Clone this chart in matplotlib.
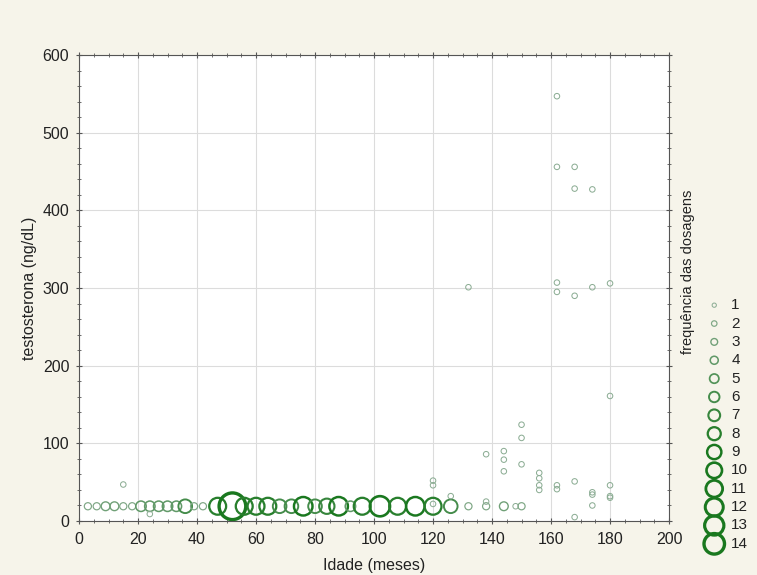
import numpy as np
import matplotlib
matplotlib.use('Agg')
import matplotlib.pyplot as plt
from matplotlib.ticker import MultipleLocator

# idade (meses), testosterona (ng/dL), frequencia das dosagens
ages = [3, 6, 9, 12, 15, 18, 21, 24, 27, 30, 33, 36, 39, 42, 47, 52, 56, 60, 64, 68,
        72, 76, 80, 84, 88, 92, 96, 102, 108, 114, 120, 126, 132, 138, 144, 148, 150,
        15, 24, 120, 120, 120, 126, 138, 138, 144, 144, 144, 150, 150, 150,
        156, 156, 156, 156, 162, 162, 168, 168, 174, 174, 174, 180, 180, 180,
        132, 162, 162, 168, 168, 174, 162, 162, 168, 174, 180, 180]
testo = [19, 19, 19, 19, 19, 19, 19, 19, 19, 19, 19, 19, 19, 19, 19, 19, 19, 19, 19, 19,
         19, 19, 19, 19, 19, 19, 19, 19, 19, 19, 19, 19, 19, 19, 19, 19, 19,
         47, 9, 52, 46, 22, 32, 86, 25, 90, 79, 64, 124, 107, 73,
         62, 55, 46, 40, 46, 41, 51, 5, 37, 34, 20, 46, 32, 30,
         301, 547, 456, 456, 428, 427, 307, 295, 290, 301, 306, 161]
freq = [2, 2, 3, 3, 2, 2, 4, 4, 4, 4, 4, 6, 2, 2, 8, 14, 8, 8, 8, 6,
        6, 9, 6, 7, 9, 4, 8, 10, 8, 9, 8, 6, 2, 2, 3, 1, 2,
        1, 1, 1, 1, 1, 1, 1, 1, 1, 1, 1, 1, 1, 1,
        1, 1, 1, 1, 1, 1, 1, 1, 1, 1, 1, 1, 1, 1,
        1, 1, 1, 1, 1, 1, 1, 1, 1, 1, 1, 1]
levels = list(range(1, 15))


def style(n, scale=1.0):
    n = np.asarray(n, dtype=float)
    t = np.clip((n - 1) / 8.0, 0, 1)
    light = np.array([0.55, 0.68, 0.58])
    dark = np.array([0.10, 0.47, 0.12])
    cols = light[None, :] * (1 - t[:, None]) + dark[None, :] * t[:, None]
    diam_px = scale * (3.0 + 1.25 * n)
    size = (diam_px * 0.72) ** 2
    lw = 0.6 + 0.13 * n
    return cols, size, lw


plt.rcParams['font.family'] = ['Liberation Sans', 'DejaVu Sans']
fig = plt.figure(figsize=(7.57, 5.75), dpi=100, facecolor='#f6f4ea')
ax = fig.add_axes([0.1044, 0.0939, 0.7794, 0.8104])

cols, size, lw = style(freq, 1.3)
ax.scatter(ages, testo, s=size, facecolors='none', edgecolors=cols, linewidths=lw, zorder=3)

ax.set_xlim(0, 200)
ax.set_ylim(0, 600)
ax.xaxis.set_major_locator(MultipleLocator(20))
ax.xaxis.set_minor_locator(MultipleLocator(5))
ax.yaxis.set_major_locator(MultipleLocator(100))
ax.yaxis.set_minor_locator(MultipleLocator(20))
ax.grid(True, which='major', color='#dcdcdc', linewidth=0.8)
ax.set_axisbelow(True)
ax.tick_params(which='both', direction='inout', top=True, right=True, colors='#555555',
               labelcolor='#222222', labelsize=11.5)
ax.tick_params(which='major', length=4)
ax.tick_params(which='minor', length=2.5)
ax.tick_params(axis='x', pad=6)
ax.tick_params(axis='y', pad=5)
for sp in ax.spines.values():
    sp.set_color('#555555')
ax.set_xlabel('Idade (meses)', fontsize=11.5, color='#222222', labelpad=8)
ax.set_ylabel('testosterona (ng/dL)', fontsize=11.5, color='#222222', labelpad=4)

# legenda
lax = fig.add_axes([700 / 757, 1 - 553 / 575, 57 / 757, 257 / 575])
lax.set_xlim(0, 1)
lax.set_ylim(14.5, 0.5)
lax.axis('off')
lcols, lsize, llw = style(levels)
lax.scatter([0.25] * len(levels), levels, s=lsize, facecolors='none', edgecolors=lcols,
            linewidths=llw, clip_on=False)
for lv in levels:
    lax.text(0.55, lv, str(lv), va='center', ha='left', fontsize=11, color='#222222')
fig.text(688 / 757, 1 - 272 / 575, 'frequência das dosagens', rotation=90,
         ha='center', va='center', fontsize=10.5, color='#222222')

fig.savefig('out.png', dpi=100, facecolor=fig.get_facecolor())
